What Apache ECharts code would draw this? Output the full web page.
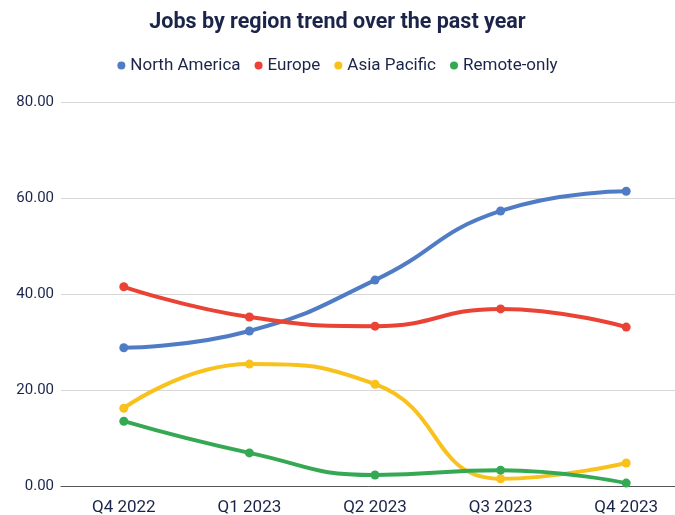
<!DOCTYPE html>
<html>
<head>
<meta charset="utf-8">
<script src="https://cdn.jsdelivr.net/npm/echarts@6/dist/echarts.min.js"></script>
<style>
  html, body { margin: 0; padding: 0; background: #ffffff; }
  #chart { width: 675px; height: 515px; }
</style>
</head>
<body>
<div id="chart"></div>
<script>
  // quarters on the x axis
  var quarters = ['Q4 2022', 'Q1 2023', 'Q2 2023', 'Q3 2023', 'Q4 2023'];
  // values
  var northAmerica = [28.8, 32.3, 42.9, 57.3, 61.4];
  var europe = [41.5, 35.2, 33.3, 36.9, 33.1];
  var asiaPacific = [16.2, 25.4, 21.2, 1.5, 4.8];
  var remoteOnly = [13.5, 6.9, 2.3, 3.3, 0.6];

  var navy = '#1b2549';
  var myChart = echarts.init(document.getElementById('chart'));

  function line(name, data, color) {
    return {
      name: name,
      type: 'line',
      smooth: true,
      data: data,
      symbol: 'circle',
      symbolSize: 9,
      lineStyle: { width: 4, color: color },
      itemStyle: { color: color }
    };
  }

  var option = {
    animation: false,
    title: {
      text: 'Jobs by region trend over the past year',
      left: 'center',
      top: 7,
      textStyle: { fontFamily: 'Roboto', fontSize: 21.5, fontWeight: 'bold', color: navy }
    },
    legend: {
      top: 52,
      left: 'center',
      icon: 'circle',
      itemWidth: 8,
      itemHeight: 8,
      itemGap: 14,
      textStyle: { fontFamily: 'Roboto', fontSize: 17, color: navy }
    },
    grid: {
      left: 61,
      width: 628,
      top: 102,
      bottom: 29,
      outerBoundsMode: 'none'
    },
    xAxis: {
      type: 'category',
      data: quarters,
      axisTick: { show: false },
      axisLine: { lineStyle: { color: '#555555', width: 1 } },
      axisLabel: { fontFamily: 'Roboto', fontSize: 17, color: navy, margin: 13 }
    },
    yAxis: {
      type: 'value',
      min: 0,
      max: 80,
      interval: 20,
      axisLabel: {
        fontFamily: 'Roboto', fontSize: 15, color: navy, margin: 7,
        formatter: function (v) { return v.toFixed(2); }
      },
      splitLine: { lineStyle: { color: '#d6d6d6' } }
    },
    series: [
      line('North America', northAmerica, '#4f7cc5'),
      line('Europe', europe, '#ea4234'),
      line('Asia Pacific', asiaPacific, '#f8c11c'),
      line('Remote-only', remoteOnly, '#35a853')
    ]
  };
  myChart.setOption(option);
</script>
</body>
</html>
